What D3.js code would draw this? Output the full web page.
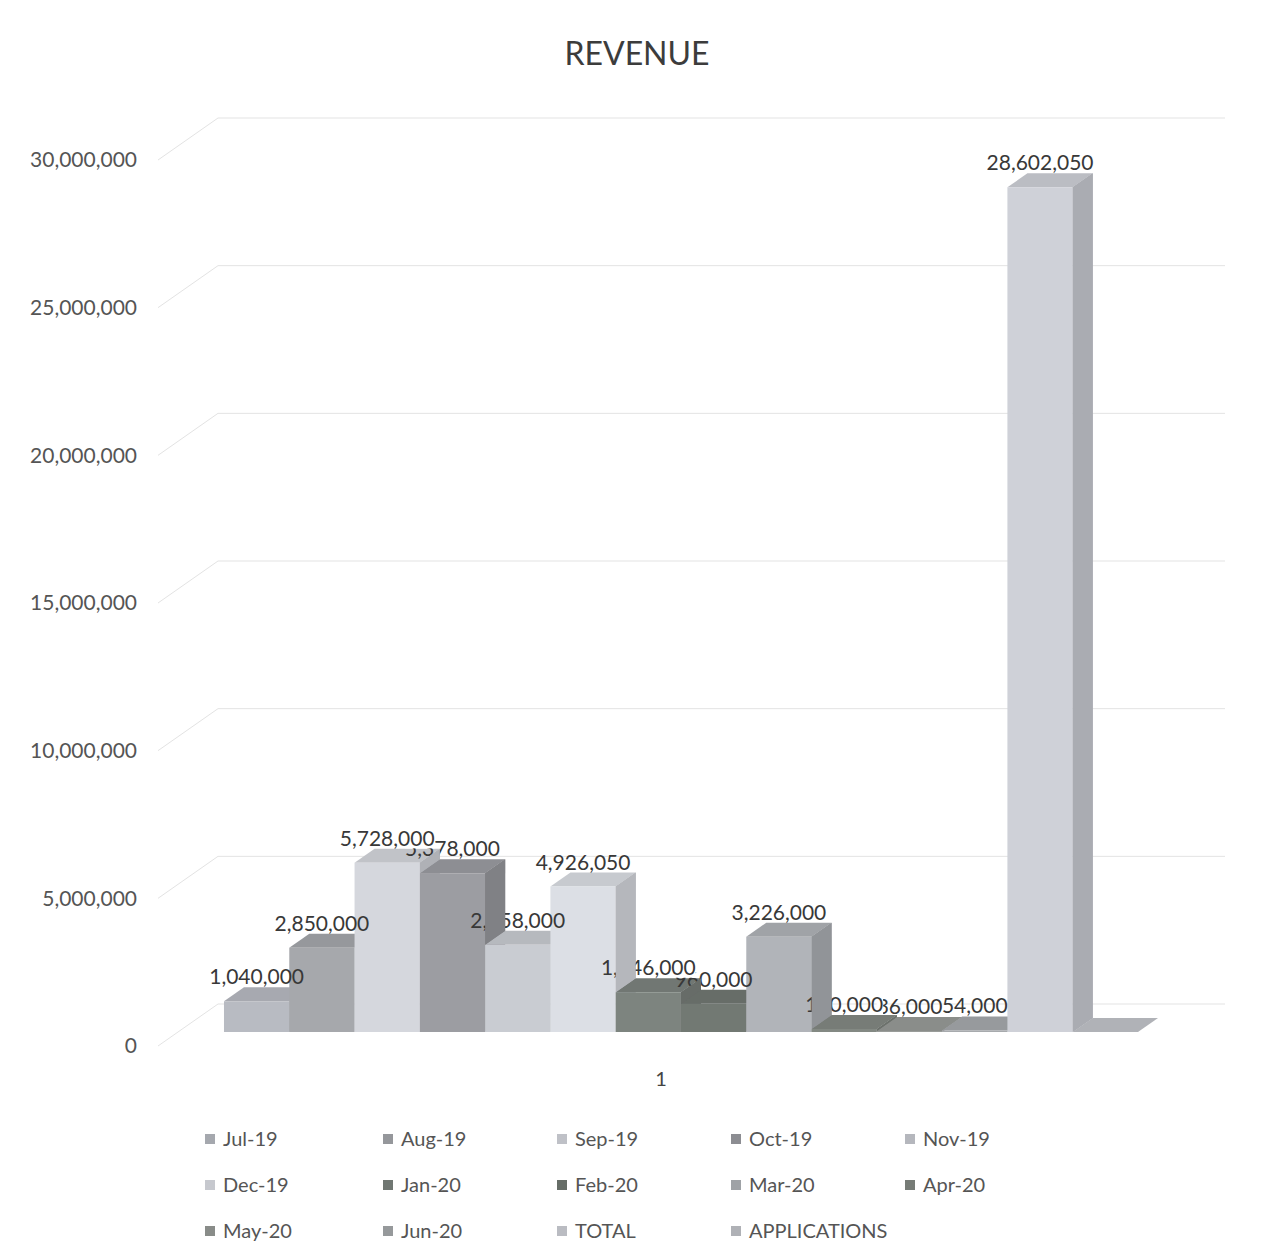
<!DOCTYPE html>
<html><head><meta charset="utf-8">
<script src="https://cdn.jsdelivr.net/npm/d3@7"></script>
<style>
body{margin:0;background:#fff}
svg{display:block}
text{font-family:Lato,'Open Sans','DejaVu Sans',sans-serif}
</style>
</head><body>
<svg id="chart" width="1266" height="1247"></svg>
<script>
// ---------------- data ----------------
const title = "REVENUE";
const categories = ["1"];
const seriesNames = ["Jul-19","Aug-19","Sep-19","Oct-19","Nov-19","Dec-19","Jan-20","Feb-20","Mar-20","Apr-20","May-20","Jun-20","TOTAL","APPLICATIONS"];
const seriesValues = [1040000,2850000,5728000,5378000,2958000,4926050,1346000,960000,3226000,100000,36000,54000,28602050,null];
const seriesColors = ["#b8bbc2","#a6a8ac","#d5d7dd","#9c9da2","#c9ccd2","#dcdfe5","#7d847f","#727973","#b1b4b9","#838983","#999c99","#a7aaad","#cfd1d8","#c3c5ca"];
const yTicks = [0,5000000,10000000,15000000,20000000,25000000,30000000];

// ---------------- layout ----------------
const svg = d3.select("#chart");
const FONT = "Lato,'Open Sans','DejaVu Sans',sans-serif";
const depthDX = 60, depthDY = -42;        // left wall depth vector (front -> back)
const barF0 = 0.333, barF1 = 0.667;       // bar depth range as fraction of wall depth
const backWallRight = 1225;

const y = d3.scaleLinear().domain([0, 30000000]).range([1046, 160]);   // front plane
const x = d3.scaleBand().domain(seriesNames).range([204, 1118]).padding(0); // front plane
const bw = x.bandwidth();
const fmt = d3.format(",");

function P(px, py, f){ return [px + f*depthDX, py + f*depthDY]; }
function poly(pts){ return pts.map(p => p[0].toFixed(2)+","+p[1].toFixed(2)).join(" "); }

// title
svg.append("text").attr("x", 637).attr("y", 65).attr("text-anchor","middle")
  .attr("font-size", 32).attr("fill", "#3c3c3c").attr("font-family", FONT).text(title);

// walls gridlines
const grid = svg.append("g");
yTicks.forEach(t => {
  const a = P(x.range()[0] - 46, y(t), 0);
  const b = P(x.range()[0] - 46, y(t), 1);
  grid.append("line").attr("x1", a[0]).attr("y1", a[1]).attr("x2", b[0]).attr("y2", b[1])
    .attr("stroke", "#e3e3e3").attr("stroke-width", 1);
  grid.append("line").attr("x1", b[0]).attr("y1", b[1]).attr("x2", backWallRight).attr("y2", b[1])
    .attr("stroke", "#e3e3e3").attr("stroke-width", 1);
});

// y axis
const axisG = svg.append("g").attr("transform", "translate(137,0)")
  .call(d3.axisLeft(y).tickValues(yTicks).tickFormat(fmt).tickSize(0).tickPadding(0));
axisG.select(".domain").remove();
axisG.attr("font-family", FONT).attr("font-size", 21);
axisG.selectAll("text").attr("fill", "#555");

// bars
const bars = seriesNames.map((n, i) => {
  const v = seriesValues[i] == null ? 0 : seriesValues[i];
  const c = d3.color(seriesColors[i]);
  return {name: n, v, raw: seriesValues[i], x0: x(n), x1: x(n) + bw, yT: y(v), yB: y(0), c};
});
const barG = svg.append("g");
bars.forEach(b => {
  const side = [P(b.x1,b.yT,barF0), P(b.x1,b.yT,barF1), P(b.x1,b.yB,barF1), P(b.x1,b.yB,barF0)];
  const top = [P(b.x0,b.yT,barF0), P(b.x1,b.yT,barF0), P(b.x1,b.yT,barF1), P(b.x0,b.yT,barF1)];
  const front = [P(b.x0,b.yT,barF0), P(b.x1,b.yT,barF0), P(b.x1,b.yB,barF0), P(b.x0,b.yB,barF0)];
  barG.append("polygon").attr("points", poly(side)).attr("fill", b.c.darker(0.55));
  barG.append("polygon").attr("points", poly(top)).attr("fill", b.c.darker(0.28));
  barG.append("polygon").attr("points", poly(front)).attr("fill", b.c);
});

// data labels (right to left), with white masking only where labels overlap
const labG = svg.append("g");
const LFS = 21;
const drawn = [];
for (let i = bars.length - 1; i >= 0; i--) {
  const b = bars[i];
  if (b.raw == null) continue;
  const cx = P(b.x0 + bw/2, 0, barF0)[0];
  const base = P(0, b.yT, barF1)[1] - 3;
  const t = labG.append("text").attr("x", cx).attr("y", base).attr("text-anchor","middle")
    .attr("font-size", LFS).attr("fill", "#383838").attr("font-family", FONT).text(fmt(b.raw));
  const bb = t.node().getBBox();
  const box = {x0: bb.x, x1: bb.x + bb.width, y0: base - 0.78*LFS, y1: base + 0.12*LFS};
  drawn.forEach(o => {
    const ix0 = Math.max(box.x0, o.x0), ix1 = Math.min(box.x1, o.x1);
    const iy0 = Math.max(box.y0, o.y0), iy1 = Math.min(box.y1, o.y1);
    if (ix1 > ix0 && iy1 > iy0) {
      labG.insert("rect", () => t.node()).attr("x", ix0).attr("y", iy0)
        .attr("width", ix1 - ix0).attr("height", iy1 - iy0).attr("fill", "#fff");
    }
  });
  drawn.push(box);
}

// exposed side faces that sit in front of neighbouring labels
const sideG = svg.append("g");
for (let i = 0; i < bars.length - 1; i++) {
  const b = bars[i], n = bars[i+1];
  if (b.v > n.v) {
    const pts = [P(b.x1,b.yT,barF0), P(b.x1,b.yT,barF1), P(b.x1,n.yT,barF1), P(b.x1,n.yT,barF0)];
    sideG.append("polygon").attr("points", poly(pts)).attr("fill", b.c.darker(0.55));
  }
}

// category label
svg.append("text").attr("x", (x.range()[0] + x.range()[1]) / 2).attr("y", 1086)
  .attr("text-anchor","middle").attr("font-size", 20).attr("fill", "#444")
  .attr("font-family", FONT).text(categories[0]);

// legend
const legCols = [205, 383, 557, 731, 905];
const legRows = [1139, 1185, 1231];
const legG = svg.append("g");
seriesNames.forEach((n, i) => {
  const cx = legCols[i % 5], cy = legRows[Math.floor(i / 5)];
  legG.append("rect").attr("x", cx).attr("y", cy - 5).attr("width", 10).attr("height", 10)
    .attr("fill", d3.color(seriesColors[i]).darker(0.3));
  legG.append("text").attr("x", cx + 18).attr("y", cy + 7).attr("font-size", 20)
    .attr("fill", "#555").attr("font-family", FONT).text(n);
});
</script>
</body></html>
